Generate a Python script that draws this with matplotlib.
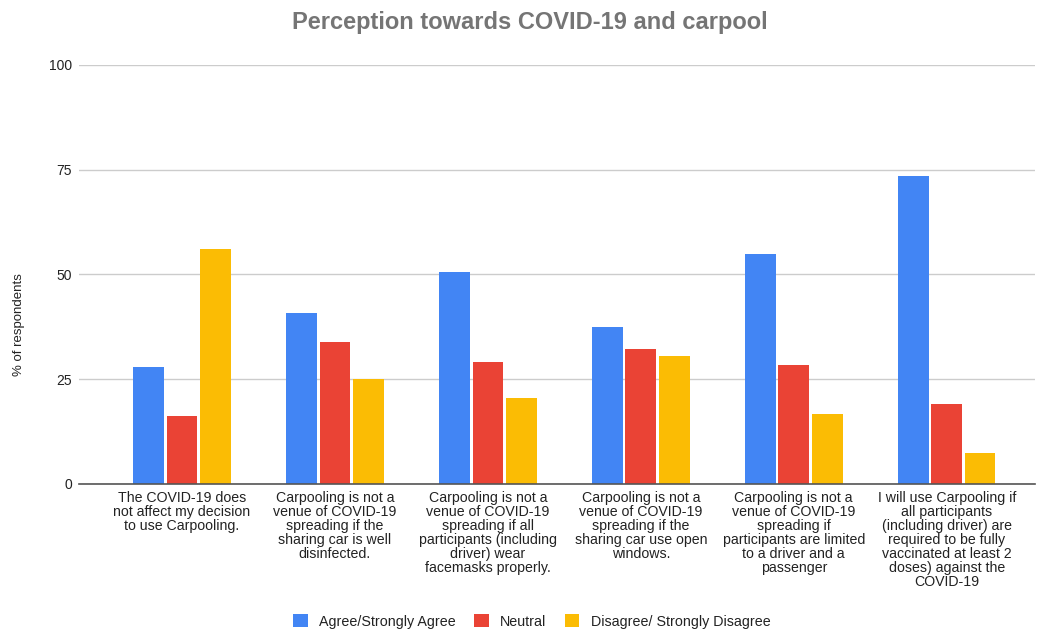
import numpy as np
import matplotlib
matplotlib.use("Agg")
import matplotlib.pyplot as plt

# data
categories = [
    "The COVID-19 does\nnot affect my decision\nto use Carpooling.",
    "Carpooling is not a\nvenue of COVID-19\nspreading if the\nsharing car is well\ndisinfected.",
    "Carpooling is not a\nvenue of COVID-19\nspreading if all\nparticipants (including\ndriver) wear\nfacemasks properly.",
    "Carpooling is not a\nvenue of COVID-19\nspreading if the\nsharing car use open\nwindows.",
    "Carpooling is not a\nvenue of COVID-19\nspreading if\nparticipants are limited\nto a driver and a\npassenger",
    "I will use Carpooling if\nall participants\n(including driver) are\nrequired to be fully\nvaccinated at least 2\ndoses) against the\nCOVID-19",
]
series_names = ["Agree/Strongly Agree", "Neutral", "Disagree/ Strongly Disagree"]
agree = [27.8, 40.8, 50.7, 37.5, 55.0, 73.4]
neutral = [16.3, 33.9, 29.1, 32.2, 28.4, 19.2]
disagree = [56.2, 25.0, 20.5, 30.5, 16.6, 7.3]
colors = ["#4285F4", "#EA4335", "#FBBC04"]

plt.rcParams["font.family"] = ["Liberation Sans", "DejaVu Sans"]

fig = plt.figure(figsize=(10.43, 6.31), dpi=100)
ax = fig.add_axes([0.0757, 0.233, 0.9163, 0.664])

x = np.arange(len(categories))
w = 0.2
step = 0.219
for i, (vals, name, c) in enumerate(zip([agree, neutral, disagree], series_names, colors)):
    ax.bar(x + (i - 1) * step, vals, w, color=c, label=name, zorder=3)

ax.set_ylim(0, 100)
ax.set_xlim(-0.673, 5.575)
ax.set_yticks([0, 25, 50, 75, 100])
ax.yaxis.grid(True, color="#cccccc", linewidth=1, zorder=0)
for s in ["top", "right", "left"]:
    ax.spines[s].set_visible(False)
ax.spines["bottom"].set_color("#555555")
ax.spines["bottom"].set_linewidth(1.2)
ax.spines["bottom"].set_zorder(4)
ax.tick_params(axis="both", length=0, labelcolor="#222222")
ax.tick_params(axis="y", pad=5, labelsize=10)
ax.set_xticks(x)
ax.set_xticklabels(categories, fontsize=10.2, linespacing=1.0, va="top")
ax.tick_params(axis="x", pad=5)

fig.text(0.508, 0.965, "Perception towards COVID-19 and carpool", ha="center", va="center",
         fontsize=17, fontweight="bold", color="#757575")
fig.text(0.018, 0.485, "% of respondents", rotation=90, ha="center", va="center",
         fontsize=9.5, color="#222222")

fig.legend(loc="center", bbox_to_anchor=(0.510, 0.015), ncol=3, frameon=False,
           fontsize=10.3, handlelength=1.0, handleheight=1.0, columnspacing=1.3,
           handletextpad=0.8, labelcolor="#222222")

fig.savefig("out.png", dpi=100)
